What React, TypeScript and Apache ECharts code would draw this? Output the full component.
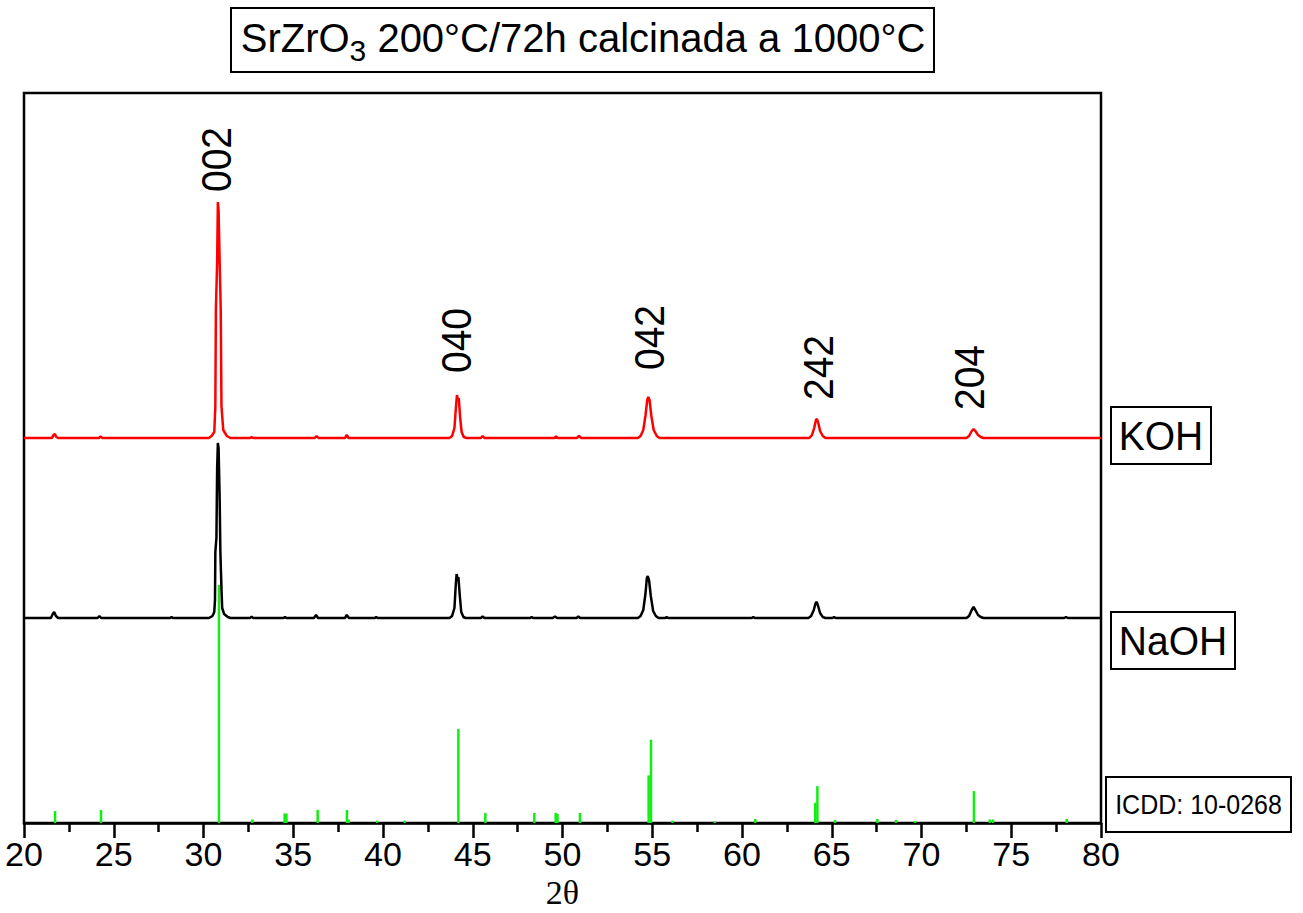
import React, { useEffect, useRef } from "react";
import * as echarts from "echarts";

const SANS = "Arial, 'Liberation Sans', sans-serif";
const SERIF = "'Times New Roman', 'Liberation Serif', serif";

// 2θ axis
const X_MIN = 20;
const X_MAX = 80;
const X_STEP = 5;

// vertical layout (arbitrary intensity units)
const Y_MAX = 730;
const KOH_OFFSET = 385;
const NAOH_OFFSET = 205;
const ICDD_SCALE = 2.38; // units per % relative intensity

// KOH pattern: [2θ, intensity above its baseline]
const kohPattern: [number, number][] = [
  [20, 0], [21.55, 0], [21.65, 3], [21.72, 4], [21.8, 1], [21.9, 0],
  [24.17, 0], [24.27, 1.5], [24.37, 0],
  [30.3, 0], [30.45, 2], [30.6, 6], [30.66, 32], [30.69, 128], [30.76, 176],
  [30.8, 236], [30.84, 228], [30.9, 176], [30.96, 128], [31.0, 32], [31.1, 8],
  [31.3, 2], [31.5, 0],
  [32.6, 0], [32.68, 1], [32.76, 0],
  [36.2, 0], [36.3, 2], [36.4, 0],
  [37.88, 0], [37.98, 3], [38.08, 0],
  [43.7, 0], [43.85, 2], [43.98, 10], [44.06, 30], [44.12, 43], [44.18, 38],
  [44.22, 40], [44.3, 20], [44.38, 6], [44.5, 1], [44.65, 0],
  [45.45, 0], [45.55, 2], [45.65, 0],
  [49.55, 0], [49.64, 1.5], [49.74, 0],
  [50.8, 0], [50.92, 2], [51.04, 0],
  [54.2, 0], [54.35, 2], [54.5, 8], [54.62, 22], [54.72, 38], [54.78, 41],
  [54.85, 38], [54.95, 22], [55.08, 8], [55.25, 2], [55.4, 0],
  [63.75, 0], [63.9, 3], [64.02, 10], [64.12, 18], [64.18, 19], [64.25, 15],
  [64.35, 7], [64.5, 2], [64.65, 0],
  [72.5, 0], [72.65, 2], [72.8, 7], [72.9, 9], [73.0, 7], [73.15, 3],
  [73.3, 1], [73.45, 0],
  [80, 0],
];

// NaOH pattern: [2θ, intensity above its baseline]
const naohPattern: [number, number][] = [
  [20, 0], [21.5, 0], [21.6, 4], [21.68, 6], [21.78, 2], [21.9, 0],
  [24.1, 0], [24.2, 2], [24.3, 0],
  [28.15, 0], [28.22, 1], [28.3, 0],
  [30.3, 0], [30.5, 2], [30.6, 6], [30.64, 18], [30.66, 66], [30.72, 80],
  [30.76, 150], [30.8, 175], [30.84, 170], [30.9, 120], [30.94, 66],
  [31.0, 30], [31.04, 10], [31.15, 4], [31.35, 1], [31.5, 0],
  [32.6, 0], [32.68, 1.5], [32.76, 0],
  [34.45, 0], [34.54, 1], [34.62, 0],
  [36.15, 0], [36.27, 3], [36.38, 0],
  [37.88, 0], [37.98, 3], [38.1, 0],
  [39.55, 0], [39.62, 1], [39.7, 0],
  [43.7, 0], [43.85, 2], [43.98, 10], [44.05, 32], [44.1, 44], [44.15, 40],
  [44.2, 41], [44.28, 22], [44.36, 6], [44.48, 1], [44.6, 0],
  [45.45, 0], [45.55, 1.5], [45.65, 0],
  [48.2, 0], [48.28, 1], [48.36, 0],
  [49.45, 0], [49.58, 1.5], [49.7, 0],
  [50.78, 0], [50.88, 1.5], [50.98, 0],
  [54.2, 0], [54.35, 2], [54.5, 8], [54.62, 24], [54.7, 40], [54.75, 42],
  [54.82, 38], [54.92, 22], [55.05, 7], [55.2, 2], [55.35, 0],
  [55.72, 0], [55.8, 1], [55.88, 0],
  [60.55, 0], [60.63, 1], [60.71, 0],
  [63.7, 0], [63.85, 2], [64.0, 8], [64.1, 15], [64.16, 16], [64.24, 12],
  [64.35, 5], [64.5, 1], [64.65, 0],
  [65.05, 0], [65.13, 1], [65.21, 0],
  [72.5, 0], [72.65, 2], [72.8, 8], [72.9, 11], [73.0, 8], [73.15, 3],
  [73.3, 1], [73.45, 0],
  [77.95, 0], [78.05, 1], [78.15, 0],
  [80, 0],
];

// ICDD 10-0268 reference lines
const icddPos = [
  21.73, 24.29, 30.86, 32.72, 34.52, 34.62, 36.36, 37.99, 38.08, 39.67,
  41.21, 44.2, 45.7, 48.43, 49.62, 49.72, 50.97, 54.8, 54.93, 56.13,
  58.48, 60.74, 64.08, 64.2, 65.18, 67.54, 68.58, 69.64, 72.92, 73.8,
  73.98, 78.09,
];
const icddRel = [
  5, 5.5, 100, 1.5, 4, 4, 5.5, 5.5, 1.5, 1,
  1, 39.5, 4.2, 4.2, 4.2, 3.8, 4.2, 20, 35, 1,
  0.6, 1.7, 8.5, 15.5, 1.3, 1.7, 1.3, 0.8, 13.4, 1.5,
  1.5, 1.7,
];

// Miller indices labels
const hklText = ["002", "040", "042", "242", "204"];
const hklX = [30.7, 44.07, 54.82, 64.23, 72.65];
const hklY = [631, 450, 453, 423, 413];

function boxedText(
  x: number, y: number, w: number, h: number,
  text: string, fontSize: number, extra: any = {}
) {
  return {
    type: "group",
    children: [
      {
        type: "rect",
        shape: { x, y, width: w, height: h },
        style: { fill: "#fff", stroke: "#000", lineWidth: 2 },
      },
      {
        type: "text",
        x: x + w / 2,
        y: y + h / 2,
        style: {
          text, fontSize, fontFamily: SANS, fill: "#000",
          align: "center", verticalAlign: "middle",
        },
        ...extra,
      },
    ],
  };
}

export default function App() {
  const ref = useRef<HTMLDivElement>(null);

  useEffect(() => {
    const chart = echarts.init(ref.current!, null, { renderer: "svg" });
    const option: any = {
      animation: false,
      backgroundColor: "#fff",
      grid: {
        left: 24, right: 202, top: 93, bottom: 90,
        show: true, borderColor: "#000", borderWidth: 2.5,
        containLabel: false,
        outerBoundsMode: "none",
      },
      xAxis: {
        type: "value",
        min: X_MIN, max: X_MAX, interval: X_STEP,
        name: "2θ",
        nameLocation: "middle",
        nameMoveOverlap: false,
        nameGap: 54,
        nameTextStyle: { fontFamily: SERIF, fontSize: 34, lineHeight: 30, color: "#000" },
        axisLine: { onZero: false, lineStyle: { color: "#000", width: 2.5 } },
        axisTick: { inside: false, length: 15, lineStyle: { color: "#000", width: 2.5 } },
        minorTick: { show: true, splitNumber: 2, length: 9, lineStyle: { color: "#000", width: 2.5 } },
        axisLabel: { fontFamily: SANS, fontSize: 34, color: "#000", margin: 14 },
        splitLine: { show: false },
      },
      yAxis: { type: "value", min: 0, max: Y_MAX, show: false },
      series: [
        {
          type: "custom",
          name: "ICDD",
          z: 1,
          data: icddPos.map((p, i) => [p, icddRel[i] * ICDD_SCALE]),
          renderItem: (params: any, api: any) => {
            const p0 = api.coord([api.value(0), 0]);
            const p1 = api.coord([api.value(0), api.value(1)]);
            return {
              type: "line",
              shape: { x1: p0[0], y1: p0[1], x2: p1[0], y2: p1[1] },
              style: { stroke: "#11ee11", lineWidth: 2.5 },
            };
          },
        },
        {
          type: "line",
          name: "NaOH",
          z: 2,
          showSymbol: false,
          symbol: "none",
          lineStyle: { color: "#000", width: 2.5 },
          data: naohPattern.map(([x, h]) => [x, h + NAOH_OFFSET]),
        },
        {
          type: "line",
          name: "KOH",
          z: 3,
          showSymbol: false,
          symbol: "none",
          lineStyle: { color: "#ff0000", width: 2.5 },
          data: kohPattern.map(([x, h]) => [x, h + KOH_OFFSET]),
        },
        {
          type: "custom",
          name: "hkl",
          z: 4,
          data: hklText.map((t, i) => [hklX[i], hklY[i], t]),
          renderItem: (params: any, api: any) => {
            const p = api.coord([api.value(0), api.value(1)]);
            return {
              type: "text",
              x: p[0],
              y: p[1],
              rotation: Math.PI / 2,
              scaleY: 1.1,
              style: {
                text: hklText[params.dataIndex],
                fontSize: 39,
                fontFamily: SANS,
                fill: "#000",
                align: "left",
                verticalAlign: "middle",
              },
            };
          },
        },
      ],
      graphic: [
        {
          type: "group",
          children: [
            {
              type: "rect",
              shape: { x: 231, y: 8, width: 703, height: 64 },
              style: { fill: "#fff", stroke: "#000", lineWidth: 2 },
            },
            {
              type: "text",
              x: 583,
              y: 38,
              style: {
                text: "{a|SrZrO}{b|3}{a| 200°C/72h calcinada a 1000°C}",
                align: "center",
                verticalAlign: "middle",
                fill: "#000",
                rich: {
                  a: { fontSize: 40, fontFamily: SANS, fill: "#000", lineHeight: 55, verticalAlign: "middle" },
                  b: { fontSize: 30, fontFamily: SANS, fill: "#000", lineHeight: 30, verticalAlign: "bottom" },
                },
              },
            },
          ],
        },
        boxedText(1111, 407, 100, 57, "KOH", 39, { scaleY: 1.05 }),
        boxedText(1111, 612, 124, 57, "NaOH", 39, { scaleY: 1.05 }),
        boxedText(1106, 777, 185, 55, "ICDD: 10-0268", 25, { scaleY: 1.1 }),
      ],
    };
    chart.setOption(option);
    return () => chart.dispose();
  }, []);

  return (
    <div
      ref={ref}
      style={{ position: "absolute", left: 0, top: 0, width: 1303, height: 913, background: "#fff" }}
    />
  );
}
